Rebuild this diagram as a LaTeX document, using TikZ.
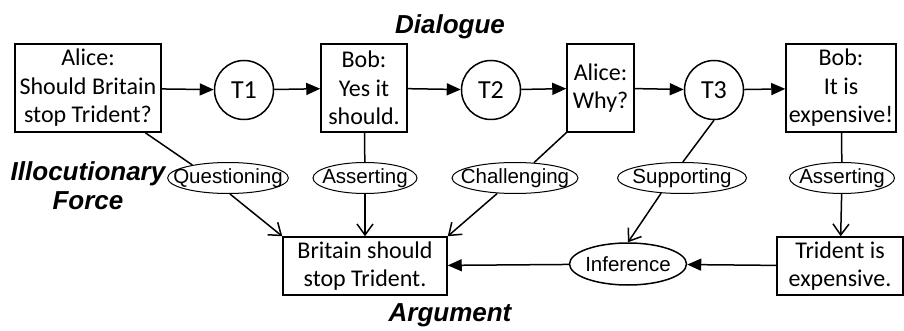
\documentclass[tikz,border=0pt]{standalone}
\usepackage{fontspec}
\setmainfont{Carlito}
\newfontfamily\arialfont{Liberation Sans}
\usetikzlibrary{arrows.meta,shapes.geometric}
\begin{document}
\begin{tikzpicture}[x=1pt,y=-1pt,line width=1.5pt]
  \tikzset{ turn/.style={rectangle,draw,align=center,inner sep=0pt,minimum height=88pt,font=\fontsize{24}{28.5}\selectfont},
    t/.style={circle,draw,inner sep=0pt,minimum size=59pt,font=\fontsize{26}{28}\selectfont},
    force/.style={ellipse,draw,fill=white,line width=1pt,inner xsep=-12pt,inner ysep=0pt,minimum height=31pt,font=\arialfont\fontsize{20.5}{24}\selectfont},
    prop/.style={rectangle,draw,align=center,inner sep=0pt,minimum height=58pt,font=\fontsize{24}{28.5}\selectfont},
    title/.style={align=center,font=\arialfont\bfseries\itshape\fontsize{26}{29}\selectfont},
    flow/.style={-{Triangle[length=14pt,width=12pt]}},
    open/.style={-{Straight Barb[length=11pt,width=16pt]}},
  }
  \useasboundingbox (0,0) rectangle (904,331);

  % dialogue
  \node[title] (d) at (450,27) {Dialogue};
  \node[turn,minimum width=146pt] (1) at (88,88) {Alice:\\Should Britain\\stop Trident?};
  \node[t] (t1) at (244,90) {T1};
  \node[turn,minimum width=86pt] (2) at (364,88) {Bob:\\Yes it\\should.};
  \node[t] (t2) at (491,90) {T2};
  \node[turn,minimum width=67pt] (3) at (600.5,88) {Alice:\\Why?};
  \node[t] (t3) at (714,90) {T3};
  \node[turn,minimum width=110pt] (4) at (841,88) {Bob:\\It is\\expensive!};

  \draw[flow] (1) -- (t1);
  \draw[flow] (t1) -- (2);
  \draw[flow] (2) -- (t2);
  \draw[flow] (t2) -- (3);
  \draw[flow] (3) -- (t3);
  \draw[flow] (t3) -- (4);

  % illocutionary force
  \node[title] (f) at (88,186) {Illocutionary\\Force};
  \node[force,minimum width=118pt] (q) at (228,178) {Questioning};
  \node[force,minimum width=104pt] (as1) at (365,178) {Asserting};
  \node[force,minimum width=126pt] (ch) at (515,178) {Challenging};
  \node[force,minimum width=129pt] (su) at (682,178) {Supporting};
  \node[force,minimum width=105pt] (as2) at (842,178) {Asserting};

  % argument
  \node[title] (a) at (450,315) {Argument};
  \node[prop,minimum width=164pt] (c) at (365,266) {Britain should\\stop Trident.};
  \node[force,line width=1.5pt,minimum width=117pt,minimum height=42pt] (inf) at (628,264) {Inference};
  \node[prop,minimum width=126pt] (p) at (840,266) {Trident is\\expensive.};

  % the connection between the levels
  \draw (1.-38.7) -- (q.160);
  \draw[open] (q.-83) -- (c.north west);
  \draw (2) -- (as1);
  \draw[open] (as1) -- (c.north);
  \draw (3.south west) -- (ch.39);
  \draw[open] (ch.221) -- (c.north east);
  \draw (t3.south) -- (su.87);
  \draw[open] (su.216.5) -- (inf.north);
  \draw (4) -- (as2);
  \draw[open] (as2) -- (p);
  \draw[flow] (p) -- (inf);
  \draw[flow] (inf) -- (c);
\end{tikzpicture}
\end{document}
